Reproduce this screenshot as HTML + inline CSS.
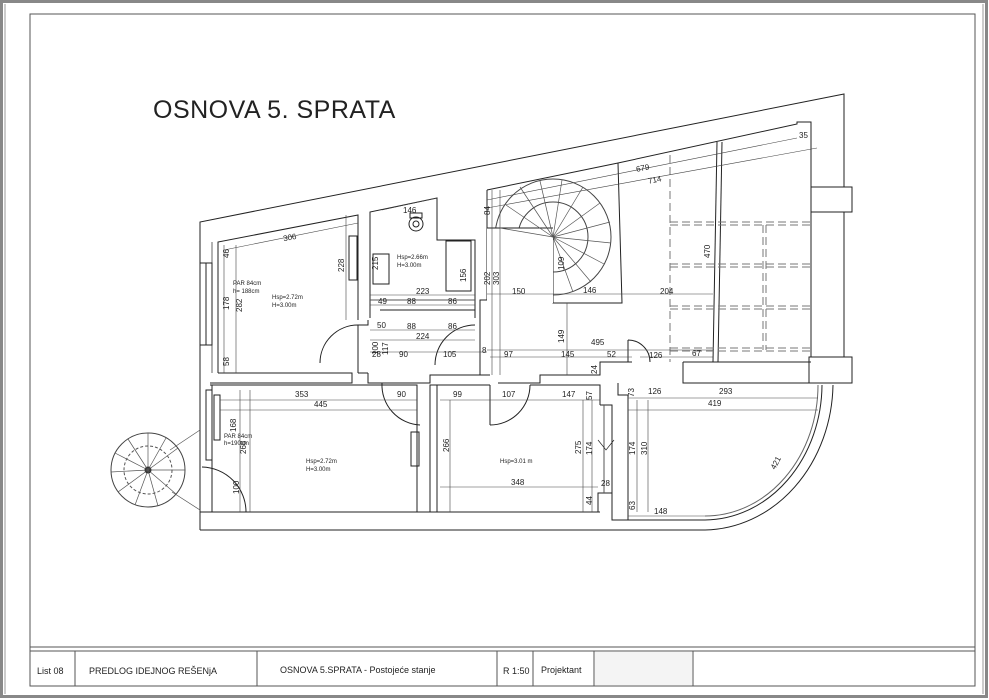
<!DOCTYPE html>
<html><head><meta charset="utf-8"><style>
html,body{margin:0;padding:0;background:#fff;}
svg{display:block;}
text{font-family:"Liberation Sans",sans-serif;fill:#222;}
.d{font-size:8px;}
.s{font-size:6px;}
</style></head><body>
<svg width="989" height="700" viewBox="0 0 989 700" xmlns="http://www.w3.org/2000/svg">
<rect x="1.5" y="1.5" width="985" height="695" fill="none" stroke="#888" stroke-width="3"/>
<line x1="5" y1="4" x2="5" y2="694" stroke="#999" stroke-width="1"/>
<line x1="983" y1="4" x2="983" y2="694" stroke="#999" stroke-width="1"/>
<rect x="30" y="14" width="945" height="672" fill="none" stroke="#555" stroke-width="1"/>
<line x1="30" y1="647" x2="975" y2="647" stroke="#555"/>
<line x1="30" y1="651" x2="975" y2="651" stroke="#555"/>
<g stroke="#555">
<line x1="75" y1="651" x2="75" y2="686"/><line x1="257" y1="651" x2="257" y2="686"/>
<line x1="497" y1="651" x2="497" y2="686"/><line x1="533" y1="651" x2="533" y2="686"/>
<line x1="594" y1="651" x2="594" y2="686"/><line x1="693" y1="651" x2="693" y2="686"/>
</g>
<rect x="595" y="652" width="97" height="33" fill="#f4f4f4"/>
<g font-size="9">
<text x="37" y="674">List 08</text>
<text x="89" y="674">PREDLOG IDEJNOG REŠENjA</text>
<text x="280" y="673">OSNOVA 5.SPRATA - Postojeće stanje</text>
<text x="503" y="674">R 1:50</text>
<text x="541" y="673">Projektant</text>
</g>
<text x="153" y="118" font-size="25" letter-spacing="0.5">OSNOVA 5. SPRATA</text>

<g fill="none" stroke="#222" stroke-width="1">
<!-- outer building -->
<polyline points="200,530 200,222 844,94 844,187"/>
<rect x="811" y="187" width="41" height="25"/>
<line x1="844" y1="212" x2="844" y2="357"/>
<rect x="809" y="357" width="43" height="26"/>
<!-- inner top walls -->
<polyline points="218,373 218,242 358,215 358,320"/>
<line x1="212" y1="242" x2="212" y2="373" stroke="#666"/>
<rect x="200" y="263" width="12" height="82"/>
<line x1="206" y1="263" x2="206" y2="345"/>
<polyline points="370,318 370,212 437,198 437,240 475,240 475,318"/>
<line x1="380" y1="310" x2="475" y2="310"/>
<line x1="370" y1="300" x2="475" y2="300" stroke="#555"/>
<rect x="373" y="254" width="16" height="30"/>
<rect x="446" y="241" width="25" height="50"/>
<circle cx="416" cy="224" r="7"/><circle cx="416" cy="224" r="3"/>
<rect x="410" y="213" width="12" height="5"/>
<rect x="349" y="236" width="8" height="44"/>
<polyline points="487,190 487,300 480,300 480,375"/>
<polyline points="487,190 618,163 797,124 797,122 811,122 811,357"/>
<polyline points="618,163 622,303 553,303 553,237"/>
<polyline points="717,142 713,362"/>
<polyline points="722,142 718,362"/>
<!-- corridor/bottom walls of top -->
<polyline points="218,373 352,373 352,383 210,383"/>
<polyline points="368,320 368,325 358,325"/>
<line x1="358" y1="325" x2="358" y2="373"/>
<line x1="358" y1="373" x2="368" y2="373"/>
<polyline points="368,373 368,383 430,383 430,375 490,375"/>
<polyline points="498,383 540,383 540,375 600,375 600,362 632,362"/>
<polyline points="683,362 811,362"/>
<polyline points="683,362 683,383 809,383"/>
<line x1="683" y1="383" x2="683" y2="362"/>
<!-- spiral top -->
<circle cx="553" cy="237" r="58" stroke="#444"/>
<circle cx="553" cy="237" r="35" stroke="#444"/>
<rect x="487" y="228" width="66" height="75" fill="#fff" stroke="none"/>
<line x1="487" y1="228" x2="553" y2="228"/>
<g stroke="#555" stroke-width="0.7">
<line x1="553" y1="237" x2="500" y2="228"/><line x1="553" y1="237" x2="506" y2="205"/>
<line x1="553" y1="237" x2="520" y2="187"/><line x1="553" y1="237" x2="540" y2="181"/>
<line x1="553" y1="237" x2="562" y2="180"/><line x1="553" y1="237" x2="583" y2="187"/>
<line x1="553" y1="237" x2="600" y2="203"/><line x1="553" y1="237" x2="610" y2="222"/>
<line x1="553" y1="237" x2="611" y2="243"/><line x1="553" y1="237" x2="604" y2="264"/>
<line x1="553" y1="237" x2="591" y2="282"/><line x1="553" y1="237" x2="573" y2="292"/>
</g>
<!-- dashed -->
<g stroke="#777" stroke-dasharray="8,4">
<line x1="670" y1="155" x2="670" y2="362"/>
<line x1="670" y1="222" x2="811" y2="222"/><line x1="670" y1="225" x2="811" y2="225"/>
<line x1="670" y1="264" x2="811" y2="264"/><line x1="670" y1="267" x2="811" y2="267"/>
<line x1="670" y1="306" x2="811" y2="306"/><line x1="670" y1="309" x2="811" y2="309"/>
<line x1="670" y1="348" x2="811" y2="348"/><line x1="670" y1="351" x2="811" y2="351"/>
<line x1="763" y1="225" x2="763" y2="350"/><line x1="766" y1="225" x2="766" y2="350"/>
</g>
<!-- doors top -->
<path d="M358,325 A38,38 0 0 0 320,363"/>
<path d="M475,325 A40,40 0 0 0 435,365"/>
<path d="M628,340 A22,22 0 0 1 650,362"/>
<line x1="628" y1="340" x2="628" y2="362"/>
<!-- lower section -->
<polyline points="210,385 417,385 417,512"/>
<line x1="212" y1="385" x2="212" y2="512"/>
<rect x="206" y="390" width="6" height="70"/>
<rect x="214" y="395" width="6" height="45"/>
<line x1="200" y1="512" x2="600" y2="512"/>
<line x1="200" y1="530" x2="705" y2="530"/>
<polyline points="430,512 430,385 490,385"/>
<polyline points="437,512 437,385"/>
<polyline points="530,385 600,385 600,405"/>
<rect x="411" y="432" width="8" height="34"/>
<polyline points="598,512 598,493 612,493 612,405 600,405"/>
<line x1="604" y1="405" x2="604" y2="493" stroke="#555"/>
<polyline points="618,383 618,395 628,395 628,520"/>
<polyline points="612,493 612,520 705,520"/>
<path d="M705,530 A130,148 0 0 0 833,385"/>
<path d="M705,520 A118,136 0 0 0 822,385"/>
<path d="M705,516 A113,131 0 0 0 818,385" stroke="#666"/>
<!-- doors lower -->
<path d="M382,383 A40,40 0 0 0 420,425"/>
<path d="M530,385 A40,40 0 0 1 490,425"/>
<line x1="490" y1="385" x2="490" y2="425"/>
<path d="M202,467 A45,45 0 0 1 246,512"/>
<polyline points="598,440 606,450 614,440" stroke-width="0.7"/>
<!-- spiral bottom left -->
<circle cx="148" cy="470" r="37" stroke="#444"/>
<circle cx="148" cy="470" r="24" stroke="#555" stroke-dasharray="3,2"/>
<circle cx="148" cy="470" r="3" fill="#222"/>
<g stroke="#555" stroke-width="0.7">
<line x1="148" y1="470" x2="148" y2="433"/><line x1="148" y1="470" x2="128" y2="439"/>
<line x1="148" y1="470" x2="115" y2="453"/><line x1="148" y1="470" x2="111" y2="472"/>
<line x1="148" y1="470" x2="118" y2="492"/><line x1="148" y1="470" x2="135" y2="505"/>
<line x1="148" y1="470" x2="158" y2="506"/><line x1="148" y1="470" x2="176" y2="494"/>
<line x1="148" y1="470" x2="185" y2="470"/><line x1="148" y1="470" x2="178" y2="448"/>
<line x1="148" y1="470" x2="166" y2="438"/>
<line x1="170" y1="450" x2="200" y2="430"/><line x1="172" y1="492" x2="200" y2="510"/>
</g>
</g>

<!-- dimension lines -->
<g stroke="#444" stroke-width="0.6" fill="none">
<line x1="224" y1="250" x2="358" y2="223"/>
<line x1="224" y1="245" x2="224" y2="373"/>
<line x1="236" y1="245" x2="236" y2="373"/>
<line x1="346" y1="215" x2="346" y2="320"/>
<line x1="382" y1="210" x2="437" y2="198"/>
<line x1="370" y1="295" x2="475" y2="295"/>
<line x1="370" y1="305" x2="475" y2="305"/>
<line x1="370" y1="330" x2="475" y2="330"/>
<line x1="370" y1="340" x2="475" y2="340"/>
<line x1="370" y1="352" x2="487" y2="352"/>
<line x1="490" y1="357" x2="632" y2="357"/>
<line x1="487" y1="350" x2="713" y2="350"/>
<line x1="487" y1="294" x2="713" y2="294"/>
<line x1="492" y1="190" x2="492" y2="375"/>
<line x1="500" y1="190" x2="500" y2="375"/>
<line x1="567" y1="303" x2="567" y2="375"/>
<line x1="487" y1="200" x2="797" y2="138"/>
<line x1="487" y1="208" x2="817" y2="148"/>
<line x1="640" y1="357" x2="713" y2="357"/>
<line x1="220" y1="400" x2="417" y2="400"/>
<line x1="220" y1="410" x2="417" y2="410"/>
<line x1="440" y1="400" x2="600" y2="400"/>
<line x1="628" y1="398" x2="818" y2="398"/>
<line x1="628" y1="410" x2="818" y2="410"/>
<line x1="240" y1="390" x2="240" y2="512"/>
<line x1="250" y1="390" x2="250" y2="512"/>
<line x1="450" y1="400" x2="450" y2="512"/>
<line x1="440" y1="487" x2="598" y2="487"/>
<line x1="583" y1="400" x2="583" y2="512"/>
<line x1="592" y1="400" x2="592" y2="512"/>
<line x1="637" y1="400" x2="637" y2="512"/>
<line x1="648" y1="400" x2="648" y2="512"/>
<line x1="628" y1="516" x2="705" y2="516"/>
</g>

<g class="d">
<text x="283" y="240" transform="rotate(-11 290 237)">306</text>
<text x="403" y="213">146</text>
<text x="636" y="171" transform="rotate(-11 641 168)">679</text>
<text x="648" y="183" transform="rotate(-11 652 180)">714</text>
<text x="799" y="138">35</text>
<text x="512" y="294">150</text>
<text x="583" y="293">146</text>
<text x="660" y="294">204</text>
<text x="416" y="294">223</text>
<text x="378" y="304">49</text>
<text x="407" y="304">88</text>
<text x="448" y="304">86</text>
<text x="377" y="328">50</text>
<text x="407" y="329">88</text>
<text x="448" y="329">86</text>
<text x="416" y="339">224</text>
<text x="372" y="357">28</text>
<text x="399" y="357">90</text>
<text x="443" y="357">105</text>
<text x="482" y="353">8</text>
<text x="504" y="357">97</text>
<text x="561" y="357">145</text>
<text x="607" y="357">52</text>
<text x="591" y="345">495</text>
<text x="649" y="358">126</text>
<text x="692" y="356">67</text>
<text x="295" y="397">353</text>
<text x="314" y="407">445</text>
<text x="397" y="397">90</text>
<text x="453" y="397">99</text>
<text x="502" y="397">107</text>
<text x="562" y="397">147</text>
<text x="648" y="394">126</text>
<text x="719" y="394">293</text>
<text x="708" y="406">419</text>
<text x="511" y="485">348</text>
<text x="601" y="486">28</text>
<text x="654" y="514">148</text>
</g>
<g class="d">
<text transform="translate(229,258) rotate(-90)">46</text>
<text transform="translate(344,272) rotate(-90)">228</text>
<text transform="translate(378,270) rotate(-90)">215</text>
<text transform="translate(490,215) rotate(-90)">84</text>
<text transform="translate(490,285) rotate(-90)">202</text>
<text transform="translate(499,285) rotate(-90)">303</text>
<text transform="translate(710,258) rotate(-90)">470</text>
<text transform="translate(564,270) rotate(-90)">109</text>
<text transform="translate(466,282) rotate(-90)">156</text>
<text transform="translate(229,310) rotate(-90)">178</text>
<text transform="translate(242,312) rotate(-90)">282</text>
<text transform="translate(378,355) rotate(-90)">100</text>
<text transform="translate(388,355) rotate(-90)">117</text>
<text transform="translate(229,366) rotate(-90)">58</text>
<text transform="translate(564,343) rotate(-90)">149</text>
<text transform="translate(597,374) rotate(-90)">24</text>
<text transform="translate(592,400) rotate(-90)">57</text>
<text transform="translate(634,397) rotate(-90)">73</text>
<text transform="translate(236,432) rotate(-90)">168</text>
<text transform="translate(246,454) rotate(-90)">268</text>
<text transform="translate(449,452) rotate(-90)">266</text>
<text transform="translate(581,454) rotate(-90)">275</text>
<text transform="translate(592,455) rotate(-90)">174</text>
<text transform="translate(635,455) rotate(-90)">174</text>
<text transform="translate(647,455) rotate(-90)">310</text>
<text transform="translate(239,494) rotate(-90)">100</text>
<text transform="translate(592,505) rotate(-90)">44</text>
<text transform="translate(635,510) rotate(-90)">63</text>
<text transform="translate(775,470) rotate(-62)">421</text>
</g>
<g class="s">
<text x="397" y="259">Hsp=2.66m</text><text x="397" y="267">H=3.00m</text>
<text x="233" y="285">PAR 84cm</text><text x="233" y="293">h= 188cm</text>
<text x="272" y="299">Hsp=2.72m</text><text x="272" y="307">H=3.00m</text>
<text x="224" y="438">PAR 84cm</text><text x="224" y="445">h=190cm</text>
<text x="306" y="463">Hsp=2.72m</text><text x="306" y="471">H=3.00m</text>
<text x="500" y="463">Hsp=3.01 m</text>
</g>
</svg>
</body></html>
